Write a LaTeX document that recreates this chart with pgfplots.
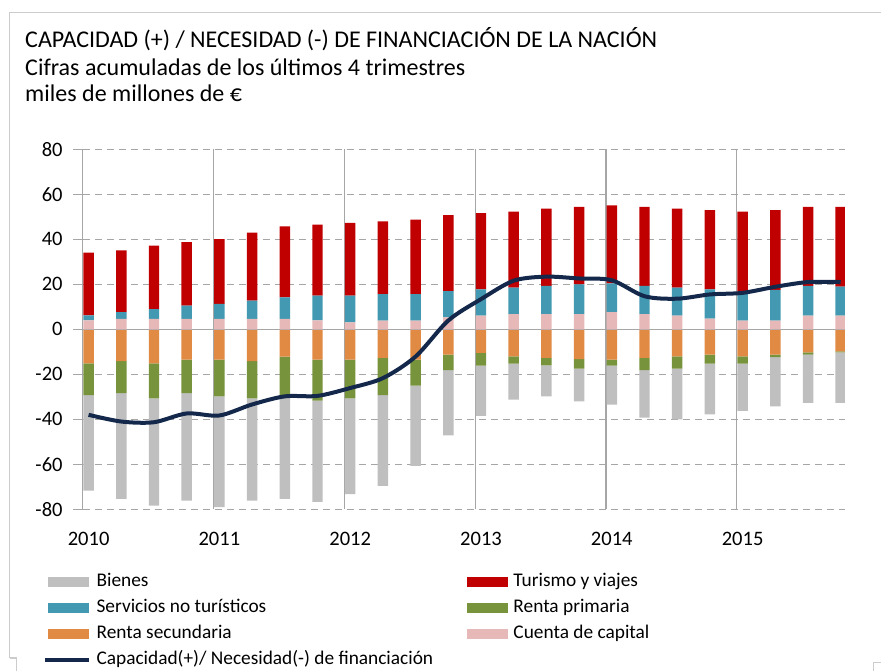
\documentclass[border=0pt]{standalone}
\usepackage{fontspec}
\setmainfont{Carlito}
\usepackage{pgfplots}
\usepackage{pgfplotstable}
\pgfplotsset{compat=1.18}

\definecolor{cBien}{HTML}{BFBFBF}
\definecolor{cTur}{HTML}{C00000}
\definecolor{cServ}{HTML}{4399B1}
\definecolor{cPri}{HTML}{77933C}
\definecolor{cSec}{HTML}{E08A43}
\definecolor{cCap}{HTML}{E6B9B8}
\definecolor{cLine}{HTML}{14284B}
\definecolor{cGrid}{HTML}{A6A6A6}
\definecolor{cFrame}{HTML}{CCCCCC}

\pgfplotstableread{
x cap serv tur sec pri bien line
0.18 4.0 2.2 27.9 -15.1 -14.1 -42.5 -38.0
1.18 4.6 3.0 27.5 -14.1 -14.3 -47.0 -41.0
2.18 4.6 4.4 28.2 -15.1 -15.6 -47.7 -41.3
3.18 4.6 5.9 28.2 -13.5 -14.9 -47.7 -37.4
4.18 4.6 6.7 28.8 -13.5 -16.3 -49.2 -38.3
5.18 4.6 8.1 30.3 -14.1 -16.6 -45.4 -33.4
6.18 4.6 9.6 31.6 -12.1 -17.8 -45.5 -29.8
7.18 4.0 11.0 31.5 -13.5 -18.2 -45.0 -29.6
8.18 3.1 11.9 32.3 -13.5 -17.2 -42.5 -26.1
9.18 3.9 11.7 32.4 -12.7 -16.5 -40.4 -21.7
10.18 3.9 11.7 33.1 -13.5 -11.5 -35.7 -12.1
11.18 5.3 11.7 33.8 -11.3 -6.8 -29.0 3.9
12.18 6.1 11.7 33.8 -10.5 -5.6 -22.4 13.4
13.18 6.8 11.7 33.8 -12.0 -3.3 -16.0 21.6
14.18 6.8 12.5 34.3 -12.7 -3.3 -13.8 23.4
15.18 6.8 13.2 34.4 -13.3 -4.2 -14.5 22.6
16.18 7.6 12.8 34.7 -13.5 -2.6 -17.4 21.8
17.18 6.8 12.5 35.1 -12.7 -5.4 -21.2 14.7
18.18 6.1 12.4 35.1 -12.0 -5.5 -22.5 13.6
19.18 4.7 13.1 35.2 -11.3 -4.0 -22.5 15.5
20.18 3.9 12.4 36.0 -12.0 -3.3 -21.0 16.2
21.18 3.9 13.6 35.5 -11.3 -1.1 -21.8 18.9
22.18 6.1 13.2 35.1 -10.2 -1.1 -21.4 21.0
23.18 6.1 12.9 35.4 -9.8 -0.4 -22.5 21.0
}\datatable

\pgfplotsset{
  common/.style={
    at={(0pt,0pt)}, anchor=south west,
    scale only axis, width=571.7pt, height=270pt,
    xmin=0, xmax=23.31, ymin=-80, ymax=80,
  },
  patchlegend/.style={legend image code/.code={\fill[##1] (0pt,-3.75pt) rectangle (31.2pt,3.75pt);}},
  linelegend/.style={legend image code/.code={\draw[##1] (-2pt,0pt) -- (31.2pt,0pt);}},
}

\begin{document}
\begin{tikzpicture}
\useasboundingbox (-62.03pt,-121.28pt) rectangle (598.73pt,381.98pt);

% axis A: grid, ticks, negative stack
\begin{axis}[common,
  ybar stacked, bar width=0.32,
  axis line style={draw=none},
  ytick pos=left, xtick pos=left,
  tick align=outside, major tick length=0pt,
  xtick={0,4,8,12,16,20}, xticklabels={,,,,,},
  extra x ticks={0.18,4.18,8.18,12.18,16.18,20.18},
  extra x tick labels={2010,2011,2012,2013,2014,2015},
  extra x tick style={grid=none},
  xmajorgrids, x grid style={cGrid, line width=0.9pt},
  ytick={-80,-60,-40,-20,0,20,40,60,80},
  ymajorgrids, y grid style={cGrid, line width=0.9pt, dash pattern=on 5.5pt off 3.5pt},
  extra y ticks={-80,-60,-40,-20,0,20,40,60,80}, extra y tick labels={},
  extra y tick style={grid=none, major tick length=7.3pt, tick style={draw=cGrid, line width=0.9pt, solid}},
  tick label style={font=\fontsize{15.4}{18}\selectfont, text=black},
  /pgf/number format/assume math mode=true,
  yticklabel style={inner sep=0pt, anchor=east, xshift=-14.9pt},
  xticklabel style={inner sep=0pt, anchor=base, yshift=-27pt},
]
\addplot[fill=cSec, draw=none] table[x=x, y=sec]{\datatable};
\addplot[fill=cPri, draw=none] table[x=x, y=pri]{\datatable};
\addplot[fill=cBien, draw=none] table[x=x, y=bien]{\datatable};
\end{axis}

% axis B: positive stack and solid zero line
\begin{axis}[common, ybar stacked, bar width=0.32,
  axis line style={draw=none}, major tick length=0pt,
  xtick=\empty, ytick={0}, yticklabels={},
  ymajorgrids, y grid style={cGrid, line width=0.9pt, solid},
]
\addplot[fill=cCap, draw=none] table[x=x, y=cap]{\datatable};
\addplot[fill=cServ, draw=none] table[x=x, y=serv]{\datatable};
\addplot[fill=cTur, draw=none] table[x=x, y=tur]{\datatable};
\end{axis}

% axis C: line and legend
\begin{axis}[common, hide axis,
  legend columns=2, legend cell align=left,
  legend style={
    at={(-0.0521,-0.1742)}, anchor=north west,
    draw=none, fill=none, inner sep=0pt, outer sep=0pt,
    font=\fontsize{14.5}{17}\selectfont,
    row sep=5pt,
    nodes={inner sep=0pt, text height=11pt, text depth=3.5pt},
    /tikz/every odd column/.append style={column sep=4pt},
    /tikz/every even column/.append style={column sep=25pt},
  },
]
\addplot[cLine, line width=3pt, smooth, tension=0.5, forget plot] table[x=x, y=line]{\datatable};
\addlegendimage{fill=cBien, draw=none, patchlegend}
\addlegendentry{Bienes}
\addlegendimage{fill=cTur, draw=none, patchlegend}
\addlegendentry{Turismo y viajes}
\addlegendimage{fill=cServ, draw=none, patchlegend}
\addlegendentry{Servicios no turísticos}
\addlegendimage{fill=cPri, draw=none, patchlegend}
\addlegendentry{Renta primaria}
\addlegendimage{fill=cSec, draw=none, patchlegend}
\addlegendentry{Renta secundaria}
\addlegendimage{fill=cCap, draw=none, patchlegend}
\addlegendentry{Cuenta de capital}
\addlegendimage{cLine, line width=3pt, linelegend}
\addlegendentry{Capacidad(+)/ Necesidad(-) de financiación}
\end{axis}

% frame
\draw[cFrame, line width=0.9pt] (-54.9pt,-111.5pt) -- (-54.9pt,372.75pt) -- (598.73pt,372.75pt);
\draw[cFrame, line width=0.9pt] (-54.9pt,-111.5pt) -- (-49.9pt,-111.5pt) -- (-49.9pt,-121.28pt);
\draw[cFrame, line width=0.9pt] (598.73pt,-114.75pt) -- (592.95pt,-114.75pt) -- (592.95pt,-121.28pt);

% titles
\node[anchor=base west, inner sep=0pt, font=\fontsize{18}{21}\selectfont] at (-43.3pt,346.0pt) {CAPACIDAD (+) / NECESIDAD (-) DE FINANCIACIÓN DE LA NACIÓN};
\node[anchor=base west, inner sep=0pt, font=\fontsize{18}{21}\selectfont] at (-43.3pt,325.7pt) {Cifras acumuladas de los últimos 4 trimestres};
\node[anchor=base west, inner sep=0pt, font=\fontsize{18}{21}\selectfont] at (-43.3pt,306.2pt) {miles de millones de €};
\end{tikzpicture}
\end{document}
